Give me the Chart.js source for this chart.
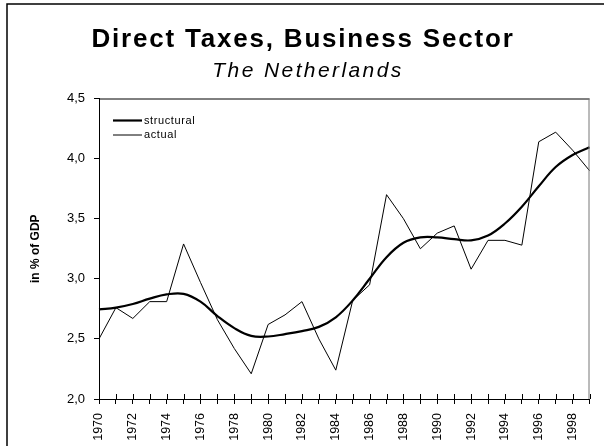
<!DOCTYPE html>
<html>
<head>
<meta charset="utf-8">
<script src="https://cdn.jsdelivr.net/npm/chart.js@4/dist/chart.umd.min.js"></script>
<style>
  body { margin: 0; background: #fff; }
  canvas { display: block; }
</style>
</head>
<body>
<canvas id="grafico" width="604" height="446"></canvas>
<script>
// data
const years = ['1970','1971','1972','1973','1974','1975','1976','1977','1978','1979',
  '1980','1981','1982','1983','1984','1985','1986','1987','1988','1989',
  '1990','1991','1992','1993','1994','1995','1996','1997','1998','1999'];
const structural = [2.745, 2.76, 2.79, 2.835, 2.87, 2.875, 2.81, 2.69, 2.59, 2.525,
  2.52, 2.54, 2.565, 2.60, 2.68, 2.82, 3.00, 3.18, 3.30, 3.345,
  3.345, 3.33, 3.32, 3.36, 3.46, 3.60, 3.77, 3.93, 4.03, 4.095];
const actual = [2.50, 2.76, 2.67, 2.81, 2.81, 3.29, 2.97, 2.66, 2.42, 2.21,
  2.62, 2.70, 2.81, 2.50, 2.24, 2.82, 2.95, 3.70, 3.50, 3.25,
  3.38, 3.44, 3.08, 3.32, 3.32, 3.28, 4.14, 4.22, 4.07, 3.90];
const yTicks = [2.0, 2.5, 3.0, 3.5, 4.0, 4.5];

const chartTitle = 'Direct Taxes, Business Sector';
const chartSubtitle = 'The Netherlands';
const yTitle = 'in % of GDP';
const fuente = '"Liberation Sans", Arial, sans-serif';

// titles, legend, frame and the inner half of the x ticks
const extras = {
  id: 'extras',
  afterDraw(chart) {
    const ctx = chart.ctx;
    const area = chart.chartArea;
    ctx.save();

    // outer frame (top and left only visible)
    ctx.strokeStyle = '#000';
    ctx.lineWidth = 1.5;
    ctx.beginPath();
    ctx.moveTo(7, 446);
    ctx.lineTo(7, 4);
    ctx.lineTo(604, 4);
    ctx.stroke();

    // plot box top and right
    ctx.lineWidth = 1;
    ctx.beginPath();
    ctx.moveTo(area.left, area.top + 0.5);
    ctx.lineTo(area.right, area.top + 0.5);
    ctx.stroke();
    ctx.strokeStyle = '#777';
    ctx.beginPath();
    ctx.moveTo(area.right - 0.5, area.top);
    ctx.lineTo(area.right - 0.5, area.bottom);
    ctx.stroke();

    // inner part of x ticks
    const xs = chart.scales.x;
    ctx.strokeStyle = '#000';
    ctx.beginPath();
    xs.ticks.forEach((t, i) => {
      const px = Math.round(xs.getPixelForTick(i)) + 0.5;
      ctx.moveTo(px, area.bottom - 5);
      ctx.lineTo(px, area.bottom);
    });
    ctx.stroke();

    // titles
    ctx.fillStyle = '#000';
    ctx.textAlign = 'center';
    ctx.textBaseline = 'alphabetic';
    ctx.letterSpacing = '1.8px';
    ctx.font = 'bold 26px ' + fuente;
    ctx.fillText(chartTitle, 303, 47);
    ctx.letterSpacing = '2.4px';
    ctx.font = 'italic 21px ' + fuente;
    ctx.fillText(chartSubtitle, 308, 77);

    // legend inside the plot
    ctx.letterSpacing = '0.6px';
    ctx.font = '11px ' + fuente;
    ctx.textAlign = 'left';
    ctx.textBaseline = 'middle';
    chart.data.datasets.forEach((ds, i) => {
      const y = area.top + 22 + i * 14.5;
      ctx.strokeStyle = ds.borderColor;
      ctx.lineWidth = ds.borderWidth;
      ctx.beginPath();
      ctx.moveTo(area.left + 14, y);
      ctx.lineTo(area.left + 43, y);
      ctx.stroke();
      ctx.fillText(ds.label, area.left + 45, y);
    });
    ctx.restore();
  }
};

const contexto = document.getElementById('grafico').getContext('2d');
const grafica = new Chart(contexto, {
  type: 'line',
  data: {
    labels: years,
    datasets: [
      {
        label: 'structural',
        data: structural,
        borderColor: '#000',
        borderWidth: 2.2,
        pointRadius: 0,
        tension: 0.4,
        fill: false
      },
      {
        label: 'actual',
        data: actual,
        borderColor: '#000',
        borderWidth: 1,
        pointRadius: 0,
        tension: 0,
        fill: false
      }
    ]
  },
  options: {
    responsive: false,
    animation: false,
    layout: { padding: { top: 98.5, left: 7, right: 14.5, bottom: 0 } },
    plugins: {
      legend: { display: false },
      title: { display: false },
      tooltip: { enabled: false }
    },
    scales: {
      x: {
        type: 'category',
        offset: false,
        afterFit: (s) => { s.height = 47; s.paddingLeft = 0; s.paddingRight = 0; },
        grid: { display: true, drawOnChartArea: false, tickLength: 5, color: '#000' },
        border: { display: true, color: '#000', width: 1 },
        ticks: {
          autoSkip: false,
          maxRotation: 90,
          minRotation: 90,
          padding: 9,
          color: '#000',
          font: { family: fuente, size: 12.5 },
          callback: (v, i) => (i % 2 === 0 ? years[i] : '')
        }
      },
      y: {
        min: 2,
        max: 4.5,
        afterFit: (s) => { s.width = 92; },
        afterBuildTicks: (s) => { s.ticks = yTicks.map(v => ({ value: v })); },
        grid: { display: true, drawOnChartArea: false, tickLength: 5, color: '#000' },
        border: { display: true, color: '#000', width: 1 },
        title: {
          display: true,
          text: yTitle,
          color: '#000',
          font: { family: fuente, size: 12, weight: 'bold' },
          padding: { top: 21, bottom: 0 }
        },
        ticks: {
          padding: 9,
          color: '#000',
          font: { family: fuente, size: 13 },
          callback: (v) => v.toFixed(1).replace('.', ',')
        }
      }
    }
  },
  plugins: [extras]
});
</script>
</body>
</html>
